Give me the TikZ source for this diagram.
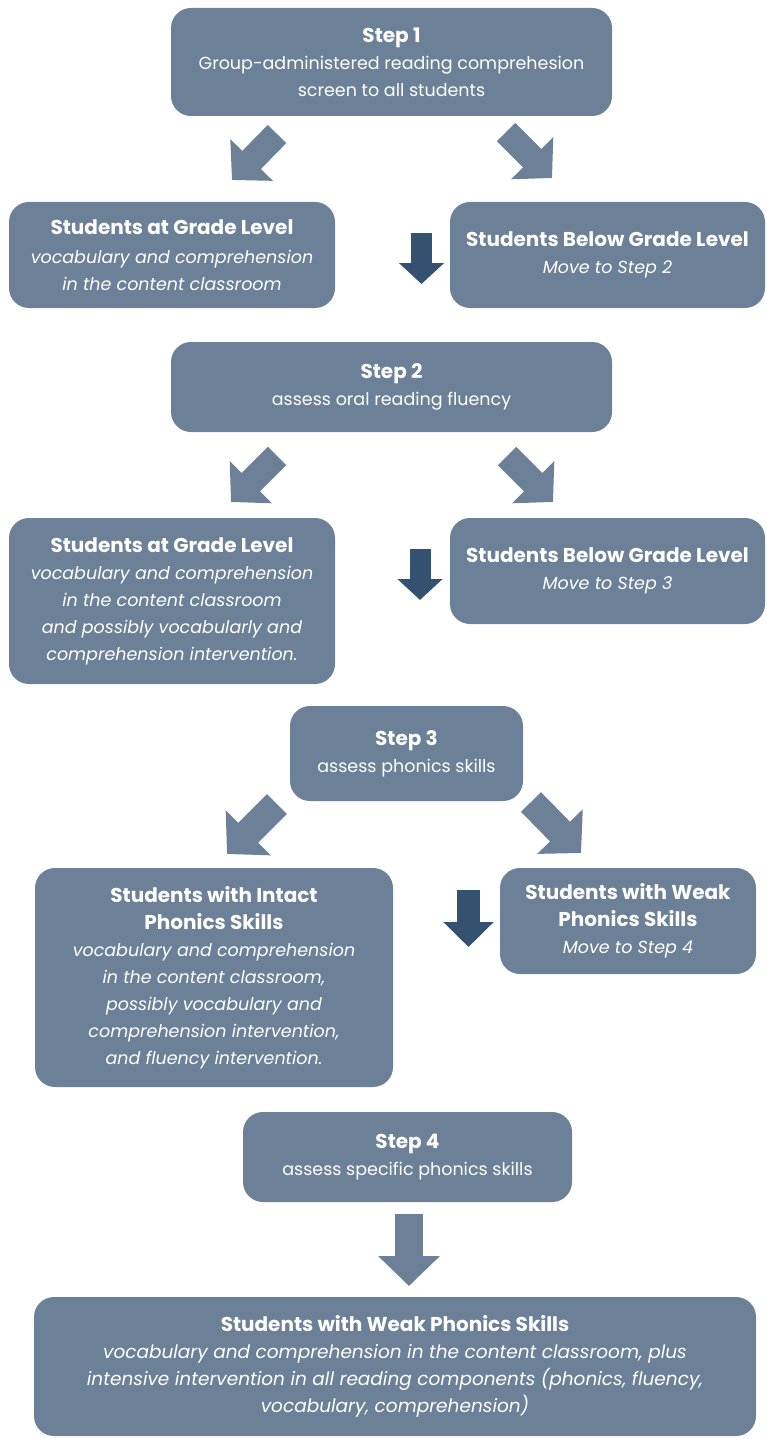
\documentclass[tikz,border=0pt]{standalone}
\usepackage{fontspec}
\setmainfont{Poppins}
\usetikzlibrary{arrows.meta}
\definecolor{slate}{HTML}{6C8097}
\definecolor{deepslate}{HTML}{345270}
\newcommand{\boxtitle}[1]{{\fontsize{20}{27}\selectfont\bfseries #1}}
\begin{document}
\begin{tikzpicture}[x=1pt,y=-1pt,
    box/.style={fill=slate,rounded corners=20pt,text=white,align=center,
      inner sep=0pt,font=\fontsize{17.5}{27}\selectfont},
    diagarrow/.style={draw=slate,line width=26pt,-{Triangle[length=28pt,width=58pt]}},
    bigdiag/.style={draw=slate,line width=28pt,-{Triangle[length=30pt,width=62pt]}},
    downarrow/.style={draw=deepslate,line width=21pt,-{Triangle[length=21pt,width=44pt]}}]
	\useasboundingbox (0,0) rectangle (766,1439);
	% step 1
	\path (391.5,62) node[box,minimum width=441pt,minimum height=108pt] (s1)
		{\boxtitle{Step 1}\\Group-administered reading comprehesion\\screen to all students};
	\path (172,255) node[box,minimum width=326pt,minimum height=106pt] (g1)
		{\boxtitle{Students at Grade Level}\\[2pt]\textit{vocabulary and comprehension}\\\textit{in the content classroom}};
	\path (607.5,255) node[box,minimum width=315pt,minimum height=106pt] (b1)
		{\boxtitle{Students Below Grade Level}\\\textit{Move to Step 2}};
	% step 2
	\path (391.5,387) node[box,minimum width=441pt,minimum height=90pt] (s2)
		{\boxtitle{Step 2}\\assess oral reading fluency};
	\path (172,601) node[box,minimum width=326pt,minimum height=166pt] (g2)
		{\boxtitle{Students at Grade Level}\\\textit{vocabulary and comprehension}\\\textit{in the content classroom}\\\textit{and possibly vocabularly and}\\\textit{comprehension intervention.}};
	\path (607.5,571) node[box,minimum width=315pt,minimum height=106pt] (b2)
		{\boxtitle{Students Below Grade Level}\\\textit{Move to Step 3}};
	% step 3
	\path (406.5,753.5) node[box,minimum width=233pt,minimum height=95pt] (s3)
		{\boxtitle{Step 3}\\assess phonics skills};
	\path (214,977.5) node[box,minimum width=358pt,minimum height=219pt] (g3)
		{\boxtitle{Students with Intact}\\\boxtitle{Phonics Skills}\\\textit{vocabulary and comprehension}\\\textit{in the content classroom,}\\\textit{possibly vocabulary and}\\\textit{comprehension intervention,}\\\textit{and fluency intervention.}};
	\path (628,921) node[box,minimum width=256pt,minimum height=106pt] (b3)
		{\boxtitle{Students with Weak}\\\boxtitle{Phonics Skills}\\\textit{Move to Step 4}};
	% step 4
	\path (407.5,1157) node[box,minimum width=329pt,minimum height=90pt] (s4)
		{\boxtitle{Step 4}\\assess specific phonics skills};
	\path (395,1366.5) node[box,minimum width=722pt,minimum height=139pt,font=\fontsize{18.5}{27}\selectfont] (fin)
		{\boxtitle{Students with Weak Phonics Skills}\\\textit{vocabulary and comprehension in the content classroom, plus}\\\textit{intensive intervention in all reading components (phonics, fluency,}\\\textit{vocabulary, comprehension)}};
	% arrow ends
	\coordinate (t1l) at (277,134); \coordinate (h1l) at (232,180);
	\coordinate (t1r) at (506,132); \coordinate (h1r) at (552,178);
	\coordinate (t2l) at (277,456); \coordinate (h2l) at (231,502);
	\coordinate (t2r) at (507,456); \coordinate (h2r) at (553,502);
	\coordinate (t3l) at (277,804); \coordinate (h3l) at (227,854);
	\coordinate (t3r) at (531,802); \coordinate (h3r) at (581,853);
	\coordinate (d1a) at (421.5,233); \coordinate (d1b) at (421.5,284);
	\coordinate (d2a) at (420,549); \coordinate (d2b) at (420,600);
	\coordinate (d3a) at (468.5,890); \coordinate (d3b) at (468.5,947);
	\coordinate (d4a) at (409,1214); \coordinate (d4b) at (409,1286);
	% arrows
	\draw[diagarrow] (t1l) -- (h1l);
	\draw[diagarrow] (t1r) -- (h1r);
	\draw[diagarrow] (t2l) -- (h2l);
	\draw[diagarrow] (t2r) -- (h2r);
	\draw[bigdiag] (t3l) -- (h3l);
	\draw[bigdiag] (t3r) -- (h3r);
	\draw[downarrow] (d1a) -- (d1b);
	\draw[downarrow] (d2a) -- (d2b);
	\draw[downarrow,line width=23pt,-{Triangle[length=25pt,width=49pt]}] (d3a) -- (d3b);
	\draw[draw=slate,line width=28pt,-{Triangle[length=30pt,width=60pt]}] (d4a) -- (d4b);
\end{tikzpicture}
\end{document}
